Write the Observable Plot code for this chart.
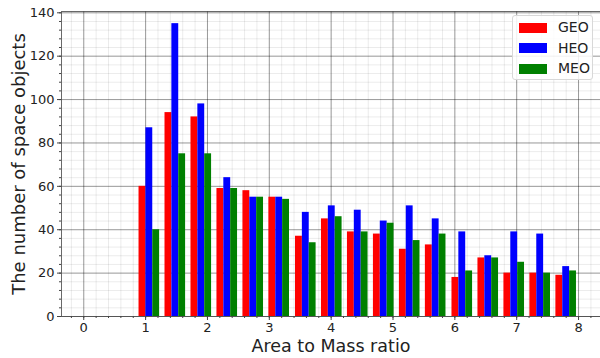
<!DOCTYPE html>
<html><head><meta charset="utf-8">
<script src="https://cdn.jsdelivr.net/npm/d3@7"></script>
<script src="https://cdn.jsdelivr.net/npm/@observablehq/plot@0.6"></script>
<style>
html,body{margin:0;padding:0;background:#fff;}
#wrap{position:relative;width:600px;height:358px;overflow:hidden;font-family:"DejaVu Sans",sans-serif;}
#legend{position:absolute;left:512px;top:15px;width:81px;height:65px;box-sizing:border-box;border:1px solid #d8d8d8;border-radius:3px;background:rgba(255,255,255,0.85);}
.row{position:absolute;left:6px;height:11px;display:flex;align-items:center;}
.sw{width:28px;height:10px;margin-right:11px;}
.lab{font-size:14px;color:#222;line-height:11px;}
</style></head>
<body><div id="wrap"><div id="chart"></div><div id="legend"></div></div>
<script>
const binCenters = [1.06,1.48,1.90,2.32,2.74,3.16,3.59,4.01,4.43,4.85,5.27,5.69,6.12,6.54,6.96,7.38,7.80];
const geo = [60,94,92,59,58,55,37,45,39,38,31,33,18,27,20,20,19];
const heo = [87,135,98,64,55,55,48,51,49,44,51,45,39,28,39,38,23];
const meo = [40,75,75,59,55,54,34,46,39,43,35,38,21,27,25,20,21];
const seriesNames = ["GEO","HEO","MEO"];
const seriesColors = ["#ff0000","#0000ff","#008000"];
const xTicks = [0,1,2,3,4,5,6,7,8];
const yTicks = [0,20,40,60,80,100,120,140];

const barW = 0.111;
const values = [geo, heo, meo];
const rows = [];
seriesNames.forEach((s, si) => {
  values[si].forEach((v, i) => {
    const c = binCenters[i] + (si - 1) * barW;
    rows.push({series: s, x1: c - barW / 2, x2: c + barW / 2, value: v});
  });
});
const xMinor = d3.range(-1, 42).map(i => i / 5).filter(v => v > -0.36 && v < 8.355);
const yMinor = d3.range(0, 141, 4);

const chart = Plot.plot({
  width: 600, height: 358,
  marginLeft: 61, marginRight: 0, marginTop: 11, marginBottom: 42,
  x: {domain: [-0.36, 8.355]},
  y: {domain: [0, 140.6]},
  color: {domain: seriesNames, range: seriesColors},
  style: {fontFamily: "DejaVu Sans", fontSize: 13, color: "#222", background: "#fff"},
  marks: [
    Plot.gridX(xMinor, {stroke: "#000", strokeOpacity: 0.08}),
    Plot.gridY(yMinor, {stroke: "#000", strokeOpacity: 0.08}),
    Plot.gridX(xTicks, {stroke: "#000", strokeOpacity: 0.35}),
    Plot.gridY(yTicks, {stroke: "#000", strokeOpacity: 0.35}),
    Plot.rectY(rows, {x1: "x1", x2: "x2", y: "value", fill: "series", inset: 0}),
    Plot.frame({stroke: "#444", strokeOpacity: 0.8}),
    Plot.axisY(yMinor, {tickSize: 2, text: null, label: null, stroke: "#444"}),
    Plot.axisY(yTicks, {tickSize: 4, tickPadding: 3, label: null, fontSize: 13, stroke: "#444"}),
    Plot.axisX(xMinor, {tickSize: 2, text: null, label: null, stroke: "#444"}),
    Plot.axisX(xTicks, {tickSize: 4, tickPadding: 2, label: null, fontSize: 13, stroke: "#444"}),
    Plot.text(["Area to Mass ratio"], {frameAnchor: "bottom", lineAnchor: "bottom", dy: 35, fontSize: 17.5, fill: "#222"}),
    Plot.text(["The number of space objects"], {frameAnchor: "left", textAnchor: "middle", rotate: -90, dx: -42, fontSize: 18, fill: "#222"})
  ]
});
document.getElementById("chart").appendChild(chart);

const leg = document.getElementById("legend");
seriesNames.forEach((s, i) => {
  const r = document.createElement("div");
  r.className = "row";
  r.style.top = (6 + i * 20.5) + "px";
  r.innerHTML = `<div class="sw" style="background:${seriesColors[i]}"></div><span class="lab">${s}</span>`;
  leg.appendChild(r);
});
</script>
</body></html>
